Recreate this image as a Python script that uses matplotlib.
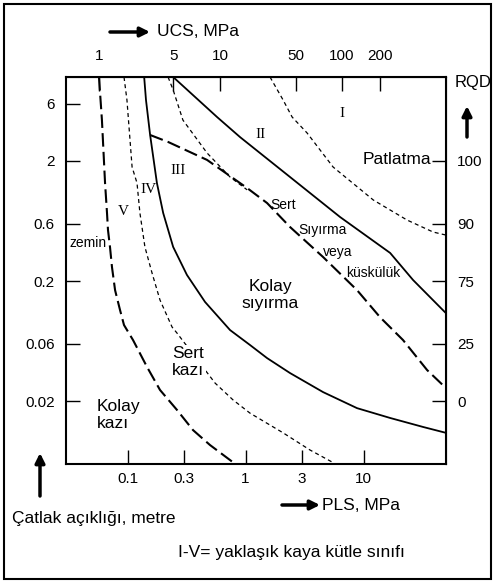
import matplotlib
matplotlib.use("Agg")
import matplotlib.pyplot as plt
from matplotlib.patches import Rectangle

plt.rcParams['font.family'] = ['Liberation Sans', 'DejaVu Sans']

# eksenler: x = PLS (MPa), y = catlak acikligi (m)
pls_ticks = [0.1, 0.3, 1, 3, 10]
pls_labels = ['0.1', '0.3', '1', '3', '10']
spacing_ticks = [6, 2, 0.6, 0.2, 0.06, 0.02]
spacing_labels = ['6', '2', '0.6', '0.2', '0.06', '0.02']
rqd_labels = ['100', '90', '75', '25', '0']
ucs_labels = ['1', '5', '10', '50', '100', '200']
ucs_at_pls = [0.057, 0.243, 0.607, 2.68, 6.58, 13.8]

# sinir egrileri (PLS, aciklik)
v_pls = [0.0571, 0.0605, 0.0643, 0.0668, 0.0681, 0.0708, 0.0736, 0.0782, 0.0861, 0.0931,
         0.111, 0.146, 0.188, 0.262, 0.358, 0.499, 0.782]
v_sp = [10, 4.38, 1.31, 0.738, 0.532, 0.385, 0.262, 0.168, 0.115, 0.0861,
        0.0646, 0.0385, 0.0248, 0.0169, 0.0115, 0.00863, 0.0062]

iv_pls = [0.0931, 0.0986, 0.109, 0.120, 0.127, 0.140, 0.161, 0.188, 0.238, 0.262,
          0.551, 0.782, 1.09, 2.08, 3.52, 5.41]
iv_sp = [10, 6.43, 1.78, 1.31, 0.738, 0.385, 0.233, 0.139, 0.0828, 0.0738,
         0.0283, 0.0205, 0.0159, 0.0109, 0.00784, 0.00623]

iii_pls = [0.138, 0.143, 0.155, 0.177, 0.200, 0.243, 0.318, 0.453, 0.738, 1.09, 1.52,
           2.38, 4.54, 8.81, 16.8, 32.0, 50]
iii_sp = [10, 6.43, 3.29, 1.31, 0.738, 0.385, 0.225, 0.134, 0.0782, 0.0587, 0.0457,
          0.0343, 0.0238, 0.0175, 0.0145, 0.0122, 0.0109]

ii_pls = [0.155, 0.22, 0.471, 1.03, 1.52, 2.38, 4.54, 8.81, 13.8, 21.6, 34.6, 50]
ii_sp = [3.29, 2.88, 2.04, 1.19, 0.893, 0.564, 0.317, 0.168, 0.1, 0.0646, 0.0363, 0.0257]

ii_top_pls = [0.22, 0.243, 0.294, 0.471, 0.738, 1.03]
ii_top_sp = [10, 7.8, 4.38, 2.33, 1.47, 1.15]

i_pls = [0.243, 0.573, 0.897, 2.38, 6.32, 16.8, 26.3, 50]
i_sp = [10, 4.64, 3.16, 1.47, 0.683, 0.343, 0.204, 0.108]

blast_pls = [1.61, 2.08, 2.48, 3.32, 5.52, 12.1, 23.4, 38.9, 50]
blast_sp = [10, 6.43, 4.64, 3.42, 1.78, 0.946, 0.644, 0.512, 0.483]

W, H = 496, 584
fig = plt.figure(figsize=(W / 100, H / 100), dpi=100)
ax = fig.add_axes([66 / W, 1 - 464 / H, 380 / W, 387 / H])
ax.set_xscale('log')
ax.set_yscale('log')
ax.set_xlim(0.03, 50)
ax.set_ylim(0.006, 10)

solid = dict(color='black', lw=1.3)
longd = dict(color='black', lw=1.5, dashes=(6.5, 2.5))
shortd = dict(color='black', lw=0.9, dashes=(3.2, 2.6))

ax.plot(v_pls, v_sp, **longd)
ax.plot(iv_pls, iv_sp, **shortd)
ax.plot(iii_pls, iii_sp, **solid)
ax.plot(ii_pls, ii_sp, **longd)
ax.plot(ii_top_pls, ii_top_sp, **shortd)
ax.plot(i_pls, i_sp, **solid)
ax.plot(blast_pls, blast_sp, **shortd)

ax.set_xticks(pls_ticks, pls_labels)
ax.set_yticks(spacing_ticks, spacing_labels)
ax.minorticks_off()
ax.tick_params(direction='in', length=10, width=1, labelsize=11)
ax.tick_params(axis='y', pad=8)
ax.tick_params(axis='x', pad=6)
for s in ax.spines.values():
    s.set_linewidth(1.5)

top = ax.secondary_xaxis('top')
top.set_xticks(ucs_at_pls, ucs_labels)
top.minorticks_off()
top.tick_params(direction='in', length=10, width=1, labelsize=11, pad=10)

right = ax.secondary_yaxis('right')
right.set_yticks(spacing_ticks[1:], rqd_labels)
right.minorticks_off()
right.tick_params(direction='in', length=10, width=1, labelsize=11, pad=8)

serif = ['Liberation Serif', 'DejaVu Serif']
ax.text(6.58, 5.01, 'I', family=serif, fontsize=11, ha='center', va='center')
ax.text(1.35, 3.29, 'II', family=serif, fontsize=11, ha='center', va='center')
ax.text(0.267, 1.68, 'III', family=serif, fontsize=11, ha='center', va='center')
ax.text(0.149, 1.15, 'IV', family=serif, fontsize=11, ha='center', va='center')
ax.text(0.0912, 0.752, 'V', family=serif, fontsize=11, ha='center', va='center')

ax.text(19.2, 2.04, 'Patlatma', fontsize=12.5, ha='center', va='center')
ax.text(2.08, 0.859, 'Sert', fontsize=10, ha='center', va='center')
ax.text(4.45, 0.532, 'Sıyırma', fontsize=10, ha='center', va='center')
ax.text(6.08, 0.349, 'veya', fontsize=10, ha='center', va='center')
ax.text(12.1, 0.233, 'küskülük', fontsize=10, ha='center', va='center')
ax.text(1.61, 0.153, 'Kolay\nsıyırma', fontsize=12.5, ha='center', va='center', linespacing=1.15)
ax.text(0.0461, 0.415, 'zemin', fontsize=10, ha='center', va='center')
ax.text(0.238, 0.0424, 'Sert\nkazı', fontsize=12.5, ha='left', va='center', linespacing=1.15,
        bbox=dict(facecolor='white', edgecolor='none', pad=1))
ax.text(0.055, 0.0153, 'Kolay\nkazı', fontsize=12.5, ha='left', va='center', linespacing=1.15)

def fx(px):
    return px / W

def fy(py):
    return 1 - py / H

arrow = dict(arrowstyle='-|>', lw=2.5, color='black', mutation_scale=14, shrinkA=0, shrinkB=0)
fig.text(fx(157), fy(32), 'UCS, MPa', fontsize=12.5, va='center')
ax.annotate('', xy=(fx(150), fy(32)), xytext=(fx(110), fy(32)), xycoords='figure fraction', arrowprops=arrow)
fig.text(fx(455), fy(83), 'RQD', fontsize=12, va='center')
ax.annotate('', xy=(fx(467), fy(106)), xytext=(fx(467), fy(137)), xycoords='figure fraction', arrowprops=arrow)
fig.text(fx(322), fy(505), 'PLS, MPa', fontsize=12.5, va='center')
ax.annotate('', xy=(fx(320), fy(505)), xytext=(fx(282), fy(505)), xycoords='figure fraction', arrowprops=arrow)
ax.annotate('', xy=(fx(40), fy(453)), xytext=(fx(40), fy(496)), xycoords='figure fraction', arrowprops=arrow)
fig.text(fx(12), fy(518), 'Çatlak açıklığı, metre', fontsize=12.5, va='center')
fig.text(fx(291), fy(553), 'I-V= yaklaşık kaya kütle sınıfı', fontsize=12.5, ha='center', va='center')

fig.patches.append(Rectangle((fx(4), fy(579)), fx(487), 575 / H, transform=fig.transFigure,
                             fill=False, edgecolor='black', lw=1.5))

fig.savefig('out.png', dpi=100)
